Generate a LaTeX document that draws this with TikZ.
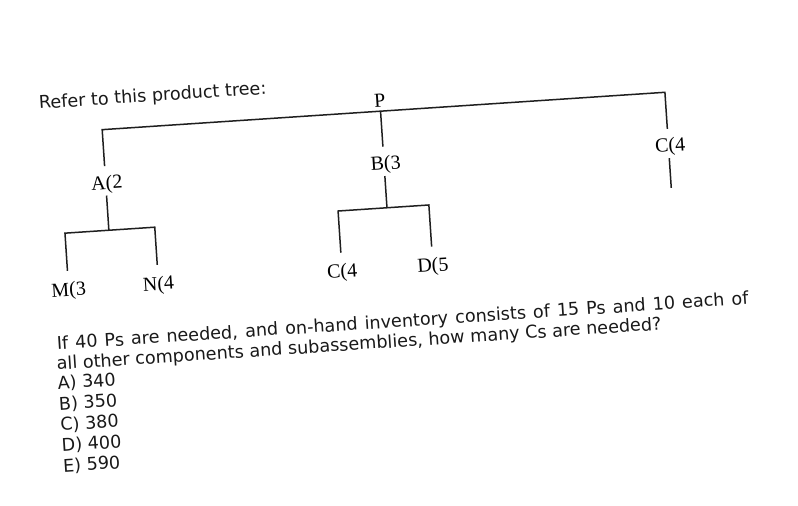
\documentclass[tikz,border=0pt]{standalone}
\usepackage{fontspec}
\setmainfont{Liberation Serif}
\newfontfamily\qfont{DejaVu Sans}
\begin{document}
\begin{tikzpicture}[x=1pt,y=-1pt]
\tikzset{
  tree/.style={line width=1.5pt, draw=black!88},
  lbl/.style={font=\fontsize{20}{20}\selectfont, inner xsep=0pt, inner ysep=4pt, text height=19pt, text depth=2pt, anchor=base},
  leaf/.style={lbl, text height=21pt},
  root/.style={font=\fontsize{20}{20}\selectfont, inner xsep=0pt, inner ysep=4pt, text depth=0pt, anchor=base},
  qtext/.style={font=\qfont\fontsize{17.6}{17.6}\selectfont, anchor=base west, inner sep=0pt, text=black!90},
}
\fill[white] (0,0) rectangle (798,506);
\useasboundingbox (0,0) rectangle (798,506);
\begin{scope}[rotate around={3.8:(400,253)}, transform shape]
  \node[qtext] (intro) at (49.6,85.4) {Refer to this product tree:};
  \node[root] (P) at (390,106) {P};
  \node[lbl] (A) at (111,170) {\llap{A}\rlap{(2}};
  \node[lbl] (B) at (390,169) {\llap{B}\rlap{(3}};
  \node[lbl] (C) at (675,170) {\llap{C}\rlap{(4}};
  \coordinate (Aj) at (111,211);
  \coordinate (Bj) at (390,207);
  \coordinate (Cend) at (675,206);
  \node[leaf] (M) at (67,274) {M(3};
  \node[leaf] (N) at (157,274) {N(4};
  \node[leaf] (C2) at (341,274) {C(4};
  \node[leaf] (D) at (432,274) {D(5};
  \draw[tree] (A.north) |- (P.south) -| (C.north);
  \draw[tree] (P.south) -- (B.north);
  \draw[tree] (A.south) -- (Aj);
  \draw[tree] (M.north) |- (Aj) -| (N.north);
  \draw[tree] (B.south) -- (Bj);
  \draw[tree] (C2.north) |- (Bj) -| (D.north);
  \draw[tree] (C.south) -- (Cend);
  \node[qtext] (q1) at (51.4,327) {\makebox[693pt][s]{If 40 Ps are needed, and on-hand inventory consists of 15 Ps and 10 each of}};
  \node[qtext] (q2) at (50,347) {all other components and subassemblies, how many Cs are needed?};
  \node[qtext] (ansA) at (49.6,366.5) {A) 340};
  \node[qtext] (ansB) at (49.6,387.3) {B) 350};
  \node[qtext] (ansC) at (49.6,408) {C) 380};
  \node[qtext] (ansD) at (49.6,428.8) {D) 400};
  \node[qtext] (ansE) at (49.6,449.5) {E) 590};
\end{scope}
\end{tikzpicture}
\end{document}
